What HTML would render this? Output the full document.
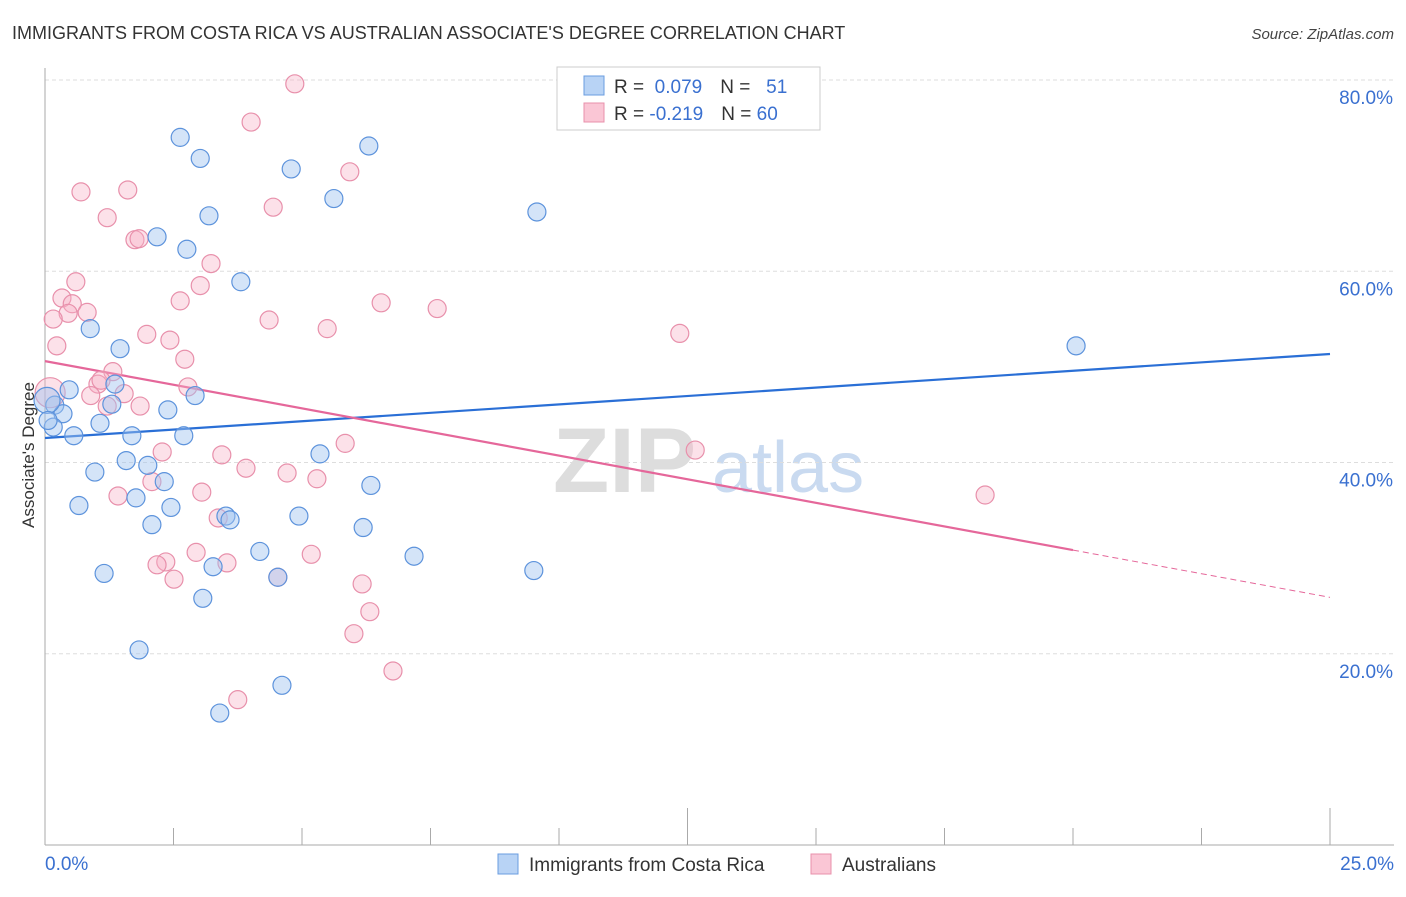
<!DOCTYPE html>
<html><head><meta charset="utf-8"><style>
body{margin:0;background:#fff;font-family:"Liberation Sans",sans-serif}
svg text{font-family:"Liberation Sans",sans-serif}
</style></head><body>
<svg id="chart" width="1406" height="892" viewBox="0 0 1406 892" xmlns="http://www.w3.org/2000/svg">
<text x="12" y="39" font-size="18" fill="#333">IMMIGRANTS FROM COSTA RICA VS AUSTRALIAN ASSOCIATE'S DEGREE CORRELATION CHART</text>
<text x="1394" y="39" font-size="15" fill="#444" text-anchor="end" font-style="italic">Source: ZipAtlas.com</text>
<g>
<text x="553" y="492" font-size="92" fill="#ddd" font-family="Liberation Serif" font-weight="bold">ZIP</text>
<text x="712" y="492" font-size="72" fill="#c9daf0">atlas</text>
</g>
<g id="grid"></g>
<g id="axes"></g>
<g id="trends"></g>
<g id="points"></g>
<text transform="translate(34,455) rotate(-90)" font-size="17" fill="#333" text-anchor="middle">Associate's Degree</text>
<g>
<rect x="557" y="67" width="263" height="63" fill="#fff" stroke="#ccc"/>
<rect x="584" y="76" width="20" height="19" fill="#b8d3f5" stroke="#6a9de0"/>
<rect x="584" y="103" width="20" height="19" fill="#fac6d5" stroke="#e890ab"/>
<text x="614" y="93" font-size="19" fill="#333">R = <tspan fill="#3a70d0">&#160;0.079</tspan><tspan dx="18">N = </tspan><tspan fill="#3a70d0">&#160;&#160;51</tspan></text>
<text x="614" y="120" font-size="19" fill="#333">R = <tspan fill="#3a70d0">-0.219</tspan><tspan dx="18">N = </tspan><tspan fill="#3a70d0">60</tspan></text>
</g>
<g>
<rect x="498" y="854" width="20" height="20" fill="#b8d3f5" stroke="#6a9de0"/>
<text x="529" y="871" font-size="19" fill="#333">Immigrants from Costa Rica</text>
<rect x="811" y="854" width="20" height="20" fill="#fac6d5" stroke="#e890ab"/>
<text x="842" y="871" font-size="19" fill="#333">Australians</text>
</g>
</svg>
<script>
const xTickLabels=["0.0%","25.0%"];
const yTicks=[20,40,60,80];
const yTickLabels=["20.0%","40.0%","60.0%","80.0%"];
const blueX=[2.63,3.02,4.79,6.30,5.62,3.19,9.57,2.18,2.76,3.81,0.88,1.46,20.06,0.47,1.36,0.19,0.35,1.30,2.39,2.92,1.07,0.56,1.69,2.70,0.16,1.58,2.00,0.97,2.32,5.35,6.34,0.66,1.77,2.45,3.52,3.60,2.08,4.94,6.19,4.18,7.18,1.15,3.27,4.53,9.51,3.07,1.83,4.61,3.40,0.04,0.06];
const blueY=[74.0,71.8,70.7,73.1,67.6,65.8,66.2,63.6,62.3,58.9,54.0,51.9,52.2,47.6,48.2,46.0,45.1,46.1,45.5,47.0,44.1,42.8,42.8,42.8,43.7,40.2,39.7,39.0,38.0,40.9,37.6,35.5,36.3,35.3,34.4,34.0,33.5,34.4,33.2,30.7,30.2,28.4,29.1,28.0,28.7,25.8,20.4,16.7,13.8,46.5,44.4];
const pinkX=[4.86,4.01,5.93,0.70,1.61,1.21,4.44,1.75,1.83,3.23,0.60,3.02,0.33,2.63,0.53,0.45,0.82,0.16,6.54,7.63,4.36,5.49,1.98,2.43,0.23,12.35,2.72,1.32,1.03,1.09,2.78,1.54,0.89,1.85,1.21,0.10,5.84,2.28,3.44,12.65,3.91,4.71,2.08,5.29,18.29,1.42,3.05,3.37,2.35,2.18,2.94,3.54,5.18,2.51,4.53,6.17,6.32,6.01,6.77,3.75];
const pinkY=[79.6,75.6,70.4,68.3,68.5,65.6,66.7,63.3,63.4,60.8,58.9,58.5,57.2,56.9,56.6,55.6,55.7,55.0,56.7,56.1,54.9,54.0,53.4,52.8,52.2,53.5,50.8,49.5,48.2,48.6,47.9,47.2,47.0,45.9,45.9,47.3,42.0,41.1,40.8,41.3,39.4,38.9,38.0,38.3,36.6,36.5,36.9,34.2,29.6,29.3,30.6,29.5,30.4,27.8,28.0,27.3,24.4,22.1,18.2,15.2];
const blueTrend=[42.56,51.35];
const pinkTrend=[50.6,25.9];
const NS="http://www.w3.org/2000/svg";
const sx=v=>45+v/25*1285, sy=v=>845-v*9.5625;
function mk(tag,attrs,parent){const e=document.createElementNS(NS,tag);for(const k in attrs)e.setAttribute(k,attrs[k]);document.getElementById(parent).appendChild(e);return e;}
yTicks.forEach((t,i)=>{
 const l=mk('line',{x1:45,x2:1394,y1:sy(t),y2:sy(t),stroke:'#ddd','stroke-dasharray':'4,3'},'grid');
 
 
 const tx=mk('text',{x:1393,y:sy(t)+24,'font-size':19,fill:'#3a70d0','text-anchor':'end'},'grid');
 tx.textContent=yTickLabels[i];
 
 
});
mk('line',{x1:45,x2:45,y1:68,y2:845,stroke:'#aaa'},'axes');
mk('line',{x1:45,x2:1394,y1:845,y2:845,stroke:'#aaa'},'axes');
for(let i=1;i<=10;i++){const x=sx(i*2.5);const l=mk('line',{x1:x,x2:x,y1:(i==5||i==10)?808:828,y2:845,stroke:'#aaa'},'axes');}
const xl0=mk('text',{x:45,y:870,'font-size':19,fill:'#3a70d0'},'axes');xl0.textContent=xTickLabels[0];

const xl1=mk('text',{x:1394,y:870,'font-size':19,fill:'#3a70d0','text-anchor':'end'},'axes');xl1.textContent=xTickLabels[1];

function dot(x,y,r,fill,stroke){const c=mk('circle',{cx:sx(x),cy:sy(y),r:r,fill:fill,stroke:stroke,'stroke-width':1.2},'points');return c;}
pinkX.forEach((x,i)=>{const c=dot(x,pinkY[i],i==35?15:9,'rgba(248,175,198,0.38)','#e890ab');
 
 });
blueX.forEach((x,i)=>{const c=dot(x,blueY[i],i==49?13:9,'rgba(160,196,240,0.45)','#5d93dc');
 
 });
const bt=mk('line',{x1:sx(0),y1:sy(blueTrend[0]),x2:sx(25),y2:sy(blueTrend[1]),stroke:'#2a6fd6','stroke-width':2.2},'trends');

const pm=v=>pinkTrend[0]+(pinkTrend[1]-pinkTrend[0])*v/25;
const pt=mk('line',{x1:sx(0),y1:sy(pm(0)),x2:sx(20),y2:sy(pm(20)),stroke:'#e5679a','stroke-width':2.2},'trends');

const pd=mk('line',{x1:sx(20),y1:sy(pm(20)),x2:sx(25),y2:sy(pm(25)),stroke:'#e5679a','stroke-width':1,'stroke-dasharray':'6,4'},'trends');

</script>
</body></html>
